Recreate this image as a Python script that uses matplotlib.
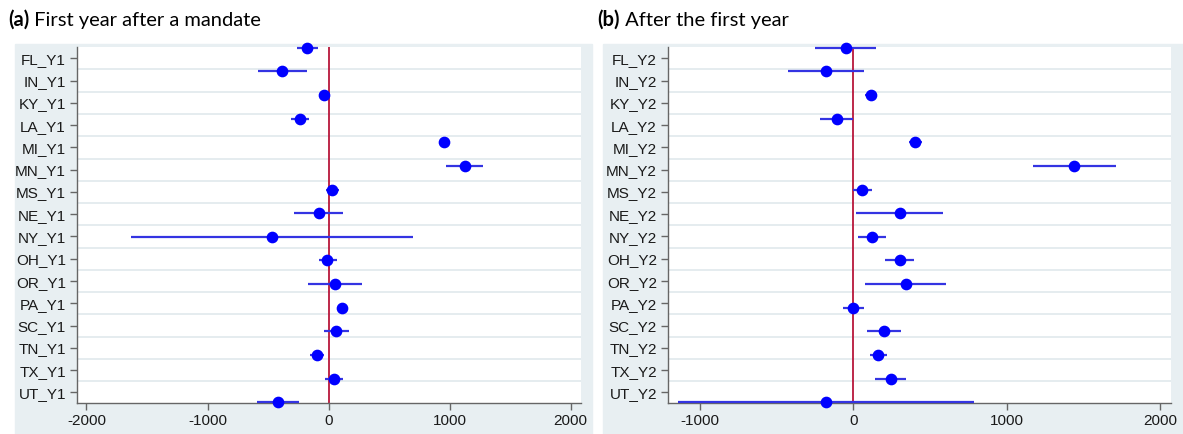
import numpy as np
import matplotlib
matplotlib.use("Agg")
import matplotlib.pyplot as plt
from matplotlib.patches import Rectangle

plt.rcParams['font.family'] = ['Liberation Sans', 'DejaVu Sans']

states = ["FL", "IN", "KY", "LA", "MI", "MN", "MS", "NE", "NY", "OH",
          "OR", "PA", "SC", "TN", "TX", "UT"]
labels_y1 = [s + "_Y1" for s in states]
labels_y2 = [s + "_Y2" for s in states]

# first year after a mandate: estimate, lower, upper
est_y1 = [-177, -383, -35, -234, 955, 1123, 32, -82, -471, -9, 54, 111, 63, -95, 47, -417]
lo_y1 = [-262, -579, -50, -310, 940, 974, -22, -285, -1632, -79, -168, 95, -35, -155, -28, -588]
hi_y1 = [-89, -177, -20, -158, 970, 1277, 85, 123, 696, 66, 272, 127, 168, -35, 123, -247]

# after the first year
est_y2 = [-49, -178, 114, -109, 404, 1440, 58, 302, 124, 304, 341, 0, 200, 163, 243, -178]
lo_y2 = [-248, -426, 75, -217, 365, 1170, -2, 17, 34, 209, 75, -66, 88, 107, 141, -1139]
hi_y2 = [148, 68, 153, -2, 448, 1710, 122, 582, 214, 394, 603, 68, 314, 219, 345, 788]

W, H = 1183, 434
fig = plt.figure(figsize=(W / 100, H / 100), dpi=100)

# gray panel backgrounds
bg = "#e8eff2"
for x0, x1 in [(15, 592), (603, 1183)]:
    fig.patches.append(Rectangle((x0 / W, 0), (x1 - x0) / W, (H - 44) / H,
                                 transform=fig.transFigure, color=bg, zorder=-10))


def panel(left_px, right_px, labels, est, lo, hi, xlim, xticks):
    ax = fig.add_axes([left_px / W, (H - 403) / H, (right_px - left_px) / W, 356 / H])
    n = len(labels)
    ypos = np.arange(n)
    tickpos = 0.45 + ypos * 0.942
    for g in (tickpos[:-1] + tickpos[1:]) / 2:
        ax.axhline(g, color="#e3eaee", lw=1.3, zorder=1)
    ax.axvline(0, color="#b8173a", lw=1.3, zorder=2)
    ax.hlines(ypos, lo, hi, color="#3434e2", lw=1.6, zorder=3, clip_on=False)
    ax.plot(est, ypos, "o", color="#0000ff", ms=7.4, zorder=4, clip_on=False)
    ax.set_ylim(n - 1 + 0.03, -0.03)
    ax.set_xlim(*xlim)
    ax.set_yticks(tickpos)
    ax.set_yticklabels(labels)
    ax.set_xticks(xticks)
    ax.set_xticklabels([str(t) for t in xticks])
    for s in ["top", "right"]:
        ax.spines[s].set_visible(False)
    for s in ["left", "bottom"]:
        ax.spines[s].set_color("#666666")
        ax.spines[s].set_linewidth(1.0)
    ax.tick_params(axis="both", length=5, width=1, color="#666666",
                   labelsize=11, labelcolor="#1a1a1a", pad=3)
    ax.set_facecolor("white")
    return ax


panel(77, 581, labels_y1, est_y1, lo_y1, hi_y1, (-2078, 2085), [-2000, -1000, 0, 1000, 2000])
panel(668, 1171, labels_y2, est_y2, lo_y2, hi_y2, (-1207, 2070), [-1000, 0, 1000, 2000])

# panel titles with bold letter
renderer = fig.canvas.get_renderer()
for x_px, letter, rest in [(8, "(a)", " First year after a mandate"),
                           (597, "(b)", " After the first year")]:
    t = fig.text(x_px / W, (H - 26) / H, letter, fontsize=14.5, fontweight="bold",
                 family=["Lato", "DejaVu Sans"], va="baseline")
    bb = t.get_window_extent(renderer)
    fig.text(bb.x1 / W, (H - 26) / H, rest, fontsize=14.5,
             family=["Lato", "DejaVu Sans"], va="baseline")

fig.savefig("out.png", dpi=100)
